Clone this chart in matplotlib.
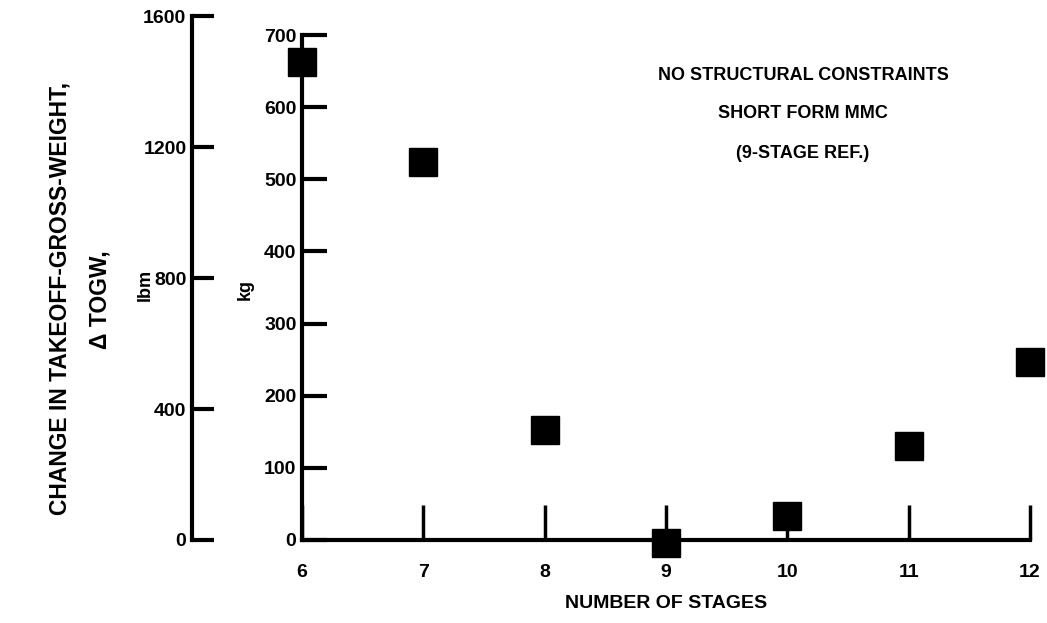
import matplotlib
matplotlib.use("Agg")
import matplotlib.pyplot as plt

# data
stages = [6, 7, 8, 9, 10, 11, 12]
dtogw_kg = [662, 524, 152, -4, 33, 130, 247]
kg_ticks = [0, 100, 200, 300, 400, 500, 600, 700]
lbm_ticks = [0, 400, 800, 1200, 1600]
notes = ["NO STRUCTURAL CONSTRAINTS", "SHORT FORM MMC", "(9-STAGE REF.)"]
KG_TO_LBM = 2.20462

plt.rcParams['font.family'] = ['Liberation Sans', 'DejaVu Sans']
plt.rcParams['font.weight'] = 'bold'
plt.rcParams['axes.labelweight'] = 'bold'

W, H = 1047, 623
fig = plt.figure(figsize=(W / 100, H / 100), dpi=100)

# main kg axes (pixel box)
x0, x1 = 302, 1030
y0, y1 = 540, 35
ax = fig.add_axes([x0 / W, 1 - y0 / H, (x1 - x0) / W, (y0 - y1) / H])
ax.set_xlim(6, 12)
ax.set_ylim(0, 700)
for s in ['top', 'right']:
    ax.spines[s].set_visible(False)
for s in ['left', 'bottom']:
    ax.spines[s].set_linewidth(3)
ax.set_xticks(stages)
ax.set_yticks(kg_ticks)
ax.tick_params(axis='x', direction='in', length=25, width=2.5, pad=17, labelsize=14)
ax.tick_params(axis='y', direction='in', length=18, width=3, pad=4, labelsize=14)
ax.set_xlabel("NUMBER OF STAGES", fontsize=14, labelpad=10)

ax.plot(stages, dtogw_kg, linestyle='none', marker='s', markersize=20,
        color='black', markeredgewidth=1, clip_on=False, zorder=5)

# lbm scale: same zero, spine reaching up to 1600 lbm
kg_px = (y0 - y1) / 700.0
top_px = y0 - 1600 / KG_TO_LBM * kg_px
lx = 192
ax2 = fig.add_axes([lx / W, 1 - y0 / H, 0.0001, (y0 - top_px) / H])
ax2.set_ylim(0, 1600)
ax2.set_xticks([])
ax2.set_yticks(lbm_ticks)
for s in ['top', 'right', 'bottom']:
    ax2.spines[s].set_visible(False)
ax2.spines['left'].set_linewidth(3)
ax2.patch.set_visible(False)
ax2.tick_params(axis='y', direction='in', length=16, width=3, pad=4, labelsize=14)

# axis titles
fig.text(60 / W, 1 - 298 / H, "CHANGE IN TAKEOFF-GROSS-WEIGHT,", rotation=90,
         ha='center', va='center', fontsize=16.5, fontweight='bold')
fig.text(100 / W, 1 - 300 / H, "\u0394 TOGW,", rotation=90,
         ha='center', va='center', fontsize=16.5, fontweight='bold')
fig.text(145 / W, 1 - 285 / H, "lbm", rotation=90, ha='center', va='center',
         fontsize=13, fontweight='bold')
fig.text(245 / W, 1 - 290 / H, "kg", rotation=90, ha='center', va='center',
         fontsize=13, fontweight='bold')

for i, t in enumerate(notes):
    fig.text(803 / W, 1 - (75 + i * 39) / H, t, ha='center', va='center',
             fontsize=13, fontweight='bold')

fig.savefig("out.png", dpi=100)
